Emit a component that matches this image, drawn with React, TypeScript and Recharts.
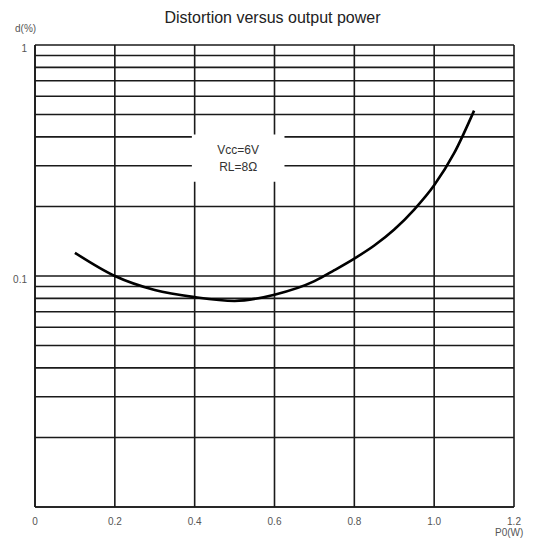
import React from "react";
import {
  CartesianGrid,
  Line,
  LineChart,
  ReferenceArea,
  XAxis,
  YAxis,
} from "recharts";

// P0 (W) sampled along the curve
const powerW = [0.1, 0.2, 0.3, 0.4, 0.5, 0.6, 0.7, 0.75, 0.8, 0.85, 0.9, 0.95, 1.0, 1.05, 1.1];
// distortion d (%)
const distortion = [
  0.126, 0.1, 0.087, 0.081, 0.078, 0.083, 0.095, 0.106, 0.119, 0.1355, 0.159, 0.194, 0.247, 0.34, 0.52,
];

const xTicks = [0, 0.2, 0.4, 0.6, 0.8, 1.0, 1.2];
const xTickLabels = ["0", "0.2", "0.4", "0.6", "0.8", "1.0", "1.2"];
const yTicks = [
  0.01, 0.02, 0.03, 0.04, 0.05, 0.06, 0.07, 0.08, 0.09,
  0.1, 0.2, 0.3, 0.4, 0.5, 0.6, 0.7, 0.8, 0.9, 1,
];
const yTickLabels: Record<string, string> = { "1": "1", "0.1": "0.1" };

const data = powerW.map((p, i) => ({ p, d: distortion[i] }));

const FONT = "'Liberation Sans', Arial, sans-serif";
const GRID = "#1a1a1a";

function YTick({ x, y, payload }: any) {
  const label = yTickLabels[String(payload.value)] ?? "";
  if (!label) return null;
  return (
    <text x={x} y={y + 7} textAnchor="end" fill="#555" fontSize={10} fontFamily={FONT}>
      {label}
    </text>
  );
}

function XTick({ x, y, payload }: any) {
  const i = xTicks.indexOf(payload.value);
  return (
    <text x={x} y={y + 10} textAnchor="middle" fill="#555" fontSize={10} fontFamily={FONT}>
      {xTickLabels[i]}
    </text>
  );
}

function NoteLabel({ viewBox }: any) {
  const cx = viewBox.x + viewBox.width / 2;
  const cy = viewBox.y + viewBox.height / 2;
  return (
    <g fontFamily={FONT} fontSize={12} fill="#333" textAnchor="middle">
      <text x={cx} y={cy - 4}>Vcc=6V</text>
      <text x={cx} y={cy + 13}>RL=8Ω</text>
    </g>
  );
}

export default function App() {
  return (
    <div style={{ position: "relative", width: 537, height: 545, fontFamily: FONT }}>
      <style>{`body{margin:0;background:#fff}`}</style>
      <div
        style={{
          position: "absolute",
          top: 9,
          left: 0,
          width: 545,
          textAlign: "center",
          fontSize: 16,
          color: "#222",
        }}
      >
        Distortion versus output power
      </div>
      <div style={{ position: "absolute", top: 23, left: 15, fontSize: 10, color: "#555" }}>
        d(%)
      </div>
      <div style={{ position: "absolute", top: 527, left: 495, fontSize: 10, color: "#555" }}>
        P0(W)
      </div>
      <LineChart
        width={537}
        height={545}
        data={data}
        margin={{ top: 45, right: 23, left: 0, bottom: 0 }}
      >
        <CartesianGrid stroke={GRID} strokeWidth={1.6} />
        <XAxis
          dataKey="p"
          type="number"
          domain={[0, 1.2]}
          ticks={xTicks}
          interval={0}
          height={38}
          tick={<XTick />}
          tickLine={false}
          axisLine={{ stroke: GRID, strokeWidth: 1.6 }}
        />
        <YAxis
          type="number"
          scale="log"
          domain={[0.01, 1]}
          ticks={yTicks}
          interval={0}
          width={35}
          tick={<YTick />}
          tickLine={false}
          axisLine={{ stroke: GRID, strokeWidth: 1.6 }}
          allowDataOverflow
        />
        <ReferenceArea
          x1={0.393}
          x2={0.625}
          y1={0.256}
          y2={0.41}
          fill="#fff"
          fillOpacity={1}
          stroke="none"
          label={<NoteLabel />}
        />
        <Line
          dataKey="d"
          type="monotone"
          stroke="#000"
          strokeWidth={2.6}
          dot={false}
          isAnimationActive={false}
        />
      </LineChart>
    </div>
  );
}
